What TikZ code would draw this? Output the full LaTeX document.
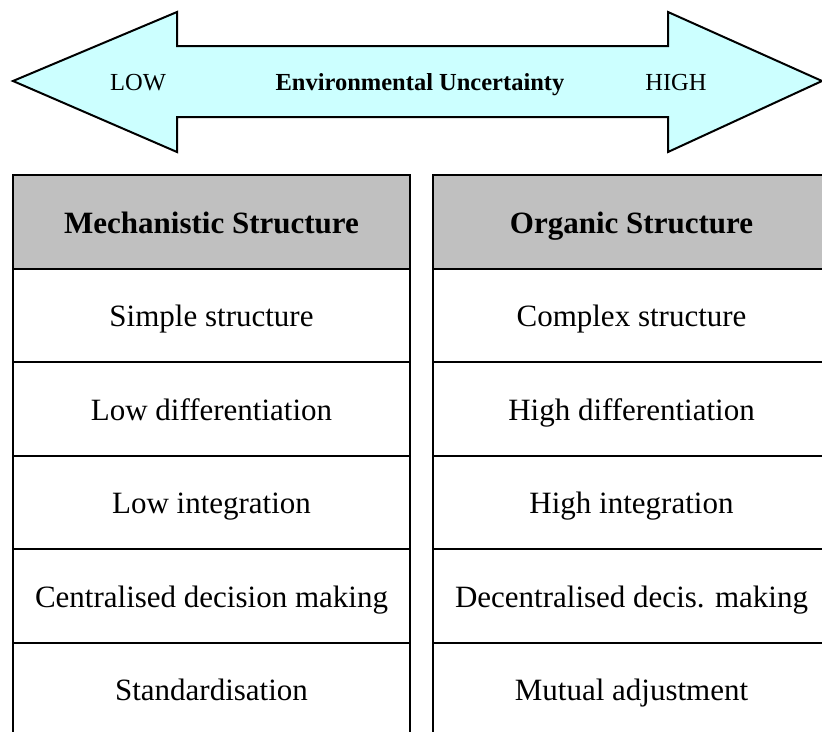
\documentclass[tikz,border=0pt]{standalone}
\usepackage{fontspec}
\setmainfont{Liberation Serif}
\usetikzlibrary{positioning}
\definecolor{arrowcyan}{RGB}{204,255,255}
\definecolor{headgray}{RGB}{192,192,192}

\begin{document}
\begin{tikzpicture}[
    x=1pt, y=-1pt,
    node distance=0pt,
    every node/.style={font=\fontsize{31}{37}\selectfont, text height=28pt, text depth=5pt},
    cell/.style={draw, line width=2pt, outer sep=0pt, minimum width=397pt, minimum height=93.5pt, inner sep=0pt, align=center},
    headcell/.style={cell, fill=headgray, font=\fontsize{31}{37}\selectfont\bfseries},
    arrowtext/.style={font=\fontsize{24.5}{29}\selectfont, text height=22pt, text depth=5pt}
  ]
    \useasboundingbox (0,0) rectangle (822,731);
    \clip (0,0) rectangle (822,731);

    % double arrow on top
    \draw[line width=2pt, fill=arrowcyan, line join=miter]
      (13,81) -- (177,12) -- (177,46) -- (668,46) -- (668,12) -- (822,81)
      -- (668,152) -- (668,117) -- (177,117) -- (177,152) -- cycle;
    \node[arrowtext] (low) at (138,82) {LOW};
    \node[arrowtext, font=\fontsize{24.5}{29}\selectfont\bfseries] (env) at (420,82) {Environmental Uncertainty};
    \node[arrowtext] (high) at (676,82) {HIGH};

    % left column
    \node[headcell, anchor=north west] (mech) at (13,175) {Mechanistic Structure};
    \node[cell, below=of mech] (simple) {Simple structure};
    \node[cell, below=of simple] (lowdiff) {Low differentiation};
    \node[cell, below=of lowdiff] (lowint) {Low integration};
    \node[cell, below=of lowint] (central) {Centralised decision making};
    \node[cell, below=of central] (standard) {Standardisation};

    % right column
    \node[headcell, anchor=north west] (org) at (433,175) {Organic Structure};
    \node[cell, below=of org] (complex) {Complex structure};
    \node[cell, below=of complex] (highdiff) {High differentiation};
    \node[cell, below=of highdiff] (highint) {High integration};
    \node[cell, below=of highint] (decentral) {Decentralised decis. making};
    \node[cell, below=of decentral] (mutual) {Mutual adjustment};
  \end{tikzpicture}
\end{document}
